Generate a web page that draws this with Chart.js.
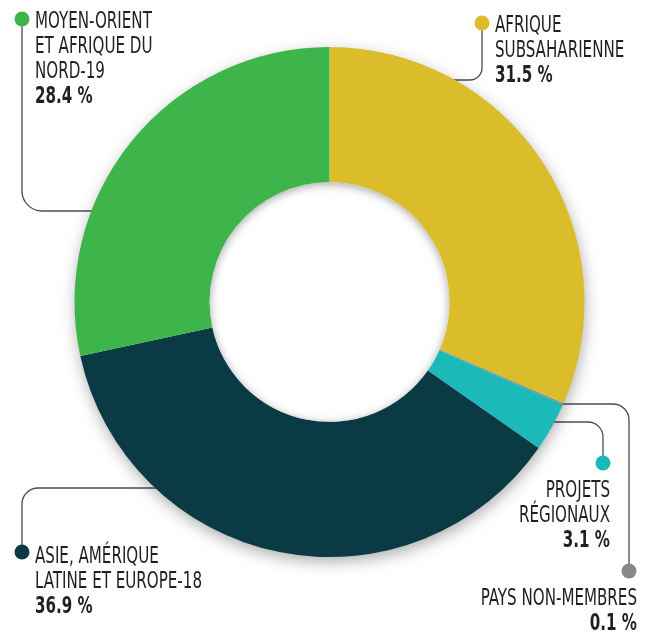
<!DOCTYPE html>
<html>
<head>
<meta charset="utf-8">
<script src="https://cdn.jsdelivr.net/npm/chart.js@4.4.1/dist/chart.umd.min.js"></script>
<style>
  html, body { margin: 0; padding: 0; background: #fff; }
  #wrap { width: 651px; height: 634px; position: relative; }
</style>
</head>
<body>
<div id="wrap"><canvas id="chart"></canvas></div>
<script>
// data, clockwise from the top
const categories = [
  ['AFRIQUE', 'SUBSAHARIENNE'],
  ['PAYS NON-MEMBRES'],
  ['PROJETS', 'RÉGIONAUX'],
  ['ASIE, AMÉRIQUE', 'LATINE ET EUROPE-18'],
  ['MOYEN-ORIENT', 'ET AFRIQUE DU', 'NORD-19']
];
const shares = [31.5, 0.1, 3.1, 36.9, 28.4];
const sliceColors = ['#dbbd2c', '#87888a', '#1bbab8', '#0a3a44', '#3db54a'];

// where each callout sits (dot, text anchor, elbow of the leader)
const callouts = [
  { dot: [482, 23], tx: 495, ty: 32, align: 'left', hy: 80, r: 12 },
  { dot: [629, 571], tx: 637, ty: 605, align: 'right', hy: 404, r: 16 },
  { dot: [603, 463], tx: 610, ty: 497, align: 'right', hy: 422, r: 15 },
  { dot: [22, 552], tx: 35, ty: 563, align: 'left', hy: 488, r: 16 },
  { dot: [22, 19], tx: 35, ty: 28, align: 'left', hy: 211, r: 20 }
];

const FONT = '"Liberation Sans Narrow", "DejaVu Sans Condensed", Roboto, sans-serif';
const LINE_H = 25;
const SQUEEZE = 0.73;

function squeezedText(ctx, txt, x, y, align) {
  ctx.save();
  ctx.translate(x, y);
  ctx.scale(SQUEEZE, 1);
  ctx.textAlign = align;
  ctx.fillText(txt, 0, 0);
  ctx.restore();
}

const calloutPlugin = {
  id: 'callouts',
  beforeDatasetsDraw(chart) {
    const ctx = chart.ctx;
    const arc = chart.getDatasetMeta(0).data[0];
    const cx = arc.x, cy = arc.y, R = arc.outerRadius;
    // leader lines (their inner ends are hidden by the ring)
    ctx.save();
    ctx.strokeStyle = '#4d4d4f';
    ctx.lineWidth = 1.3;
    callouts.forEach(c => {
      const [dx, dy] = c.dot;
      const dir = cx > dx ? 1 : -1;
      const vdir = c.hy > dy ? 1 : -1;
      ctx.beginPath();
      ctx.moveTo(dx, dy);
      ctx.lineTo(dx, c.hy - vdir * c.r);
      ctx.arcTo(dx, c.hy, dx + dir * c.r, c.hy, c.r);
      ctx.lineTo(cx, c.hy);
      ctx.stroke();
    });
    ctx.restore();
    // soft drop shadow under the ring
    ctx.save();
    ctx.shadowColor = 'rgba(0,0,0,0.35)';
    ctx.shadowBlur = 16;
    ctx.shadowOffsetY = 5;
    ctx.shadowOffsetX = 1;
    ctx.fillStyle = '#ffffff';
    ctx.beginPath();
    ctx.arc(cx, cy, R - 1, 0, Math.PI * 2);
    ctx.fill();
    ctx.restore();
  },
  afterDatasetsDraw(chart) {
    const ctx = chart.ctx;
    const arc = chart.getDatasetMeta(0).data[0];
    const cx = arc.x, cy = arc.y, r = arc.innerRadius;
    // inner shadow of the hole
    ctx.save();
    ctx.beginPath();
    ctx.arc(cx, cy, r, 0, Math.PI * 2);
    ctx.clip();
    ctx.shadowColor = 'rgba(0,0,0,0.35)';
    ctx.shadowBlur = 10;
    ctx.shadowOffsetY = 2;
    ctx.beginPath();
    ctx.rect(cx - r - 60, cy - r - 60, 2 * r + 120, 2 * r + 120);
    ctx.arc(cx, cy, r, 0, Math.PI * 2, true);
    ctx.fillStyle = '#ffffff';
    ctx.fill('evenodd');
    ctx.restore();
  },
  afterDraw(chart) {
    const ctx = chart.ctx;
    ctx.save();
    ctx.textBaseline = 'alphabetic';
    callouts.forEach((c, i) => {
      ctx.fillStyle = sliceColors[i];
      ctx.beginPath();
      ctx.arc(c.dot[0], c.dot[1], 7.5, 0, Math.PI * 2);
      ctx.fill();
      ctx.fillStyle = '#231f20';
      const lines = categories[i];
      ctx.font = '23px ' + FONT;
      lines.forEach((t, k) => squeezedText(ctx, t, c.tx, c.ty + k * LINE_H, c.align));
      ctx.font = 'bold 23px ' + FONT;
      squeezedText(ctx, shares[i].toFixed(1) + ' %', c.tx, c.ty + lines.length * LINE_H, c.align);
    });
    ctx.restore();
  }
};

new Chart(document.getElementById('chart'), {
  type: 'doughnut',
  data: {
    labels: categories.map(l => l.join(' ')),
    datasets: [{
      data: shares,
      backgroundColor: sliceColors,
      borderWidth: 0,
      hoverOffset: 0
    }]
  },
  options: {
    responsive: true,
    maintainAspectRatio: false,
    animation: false,
    cutout: '47%',
    layout: { padding: { left: 74.5, right: 66.5, top: 47, bottom: 77 } },
    plugins: {
      legend: { display: false },
      tooltip: { enabled: false }
    },
    events: []
  },
  plugins: [calloutPlugin]
});
</script>
</body>
</html>
